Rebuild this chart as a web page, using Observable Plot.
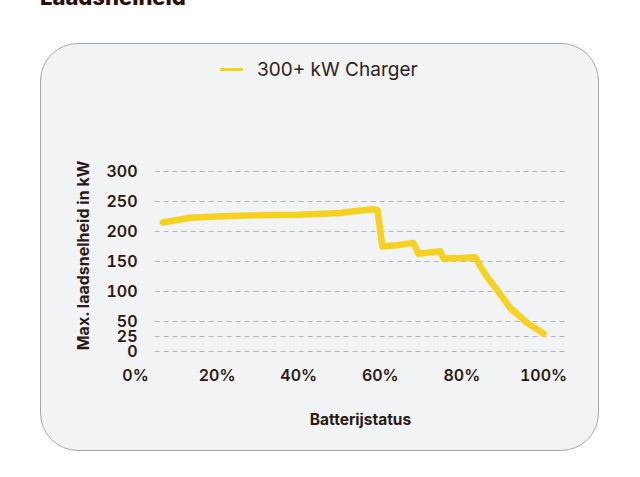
<!DOCTYPE html>
<html>
<head>
<meta charset="utf-8">
<script src="https://cdn.jsdelivr.net/npm/d3@7"></script>
<script src="https://cdn.jsdelivr.net/npm/@observablehq/plot@0.6"></script>
<style>
  html, body { margin: 0; padding: 0; background: #ffffff; }
  body { width: 640px; height: 477px; position: relative; overflow: hidden; font-family: Inter, "Open Sans", sans-serif; }
  .title { position: absolute; left: 40px; top: -14px; font-size: 22px; line-height: 22px; font-weight: 800; color: #2c0f0a; }
  .card { position: absolute; left: 40px; top: 43px; width: 557px; height: 406px; background: #f2f3f5; border: 1.5px solid #a6a6a6; border-radius: 38px; }
  .legend { position: absolute; left: 220px; top: 58px; display: flex; align-items: center; font-size: 19px; color: #2a2522; }
  .legend .swatch { width: 23px; height: 3px; background: #f4d21f; margin-right: 14px; }
  #chart { position: absolute; left: 0; top: 0; }
</style>
</head>
<body>
<div class="title">Laadsnelheid</div>
<div class="card"></div>
<div class="legend"><span class="swatch"></span><span>300+ kW Charger</span></div>
<div id="chart"></div>
<script>
// Charging curve of a 300+ kW charger: state of charge (%) vs. max. charging power (kW)
const seriesName = "300+ kW Charger";
const battery = [6.7, 13.4, 20, 30, 40, 50.2, 54, 58.3, 59.3, 60.5, 64, 68.1, 69.3, 74.7, 75.5, 80, 83.3, 84.5, 86.3, 88.7, 91.9, 96.1, 100];
const power   = [215, 223, 225, 227, 228, 231, 234, 237, 236, 175, 177, 181, 163, 167, 155, 156, 157, 142, 123, 102, 72, 47, 30];
const yTicks = [0, 25, 50, 100, 150, 200, 250, 300];
const xTicks = [0, 20, 40, 60, 80, 100];
const xTitle = "Batterijstatus";
const yTitle = "Max. laadsnelheid in kW";

const data = battery.map((b, i) => ({battery: b, power: power[i], series: seriesName}));

const ink = "#2a1a14";

const chart = Plot.plot({
  width: 640,
  height: 477,
  marginLeft: 135,
  marginRight: 97,
  marginTop: 171,
  marginBottom: 126,
  style: {background: "transparent", fontFamily: "Inter, 'Open Sans', sans-serif", overflow: "visible"},
  x: {domain: [0, 100]},
  y: {domain: [0, 300]},
  marks: [
    Plot.ruleY(yTicks, {x1: 4.8, x2: 105.4, stroke: "#b5b5b5", strokeWidth: 1, strokeDasharray: "5,4"}),
    Plot.axisY(yTicks, {tickSize: 0, tickPadding: 0, dx: 2, fontSize: 16, fontWeight: 600, fill: ink, label: null}),
    Plot.axisX(xTicks, {tickSize: 0, tickPadding: 18, fontSize: 16, fontWeight: 600, fill: ink, tickFormat: d => d + "%", label: null}),
    Plot.line(data, {x: "battery", y: "power", stroke: "#f4d21f", strokeWidth: 6.5, strokeLinejoin: "round", strokeLinecap: "round"}),
    Plot.text([yTitle], {frameAnchor: "left", textAnchor: "middle", rotate: -90, dx: -52, dy: -6, fontSize: 16, fontWeight: 700, fill: ink}),
    Plot.text([xTitle], {frameAnchor: "bottom", dx: 21, dy: 73, fontSize: 15.5, fontWeight: 700, fill: ink})
  ]
});
document.getElementById("chart").appendChild(chart);
</script>
</body>
</html>
